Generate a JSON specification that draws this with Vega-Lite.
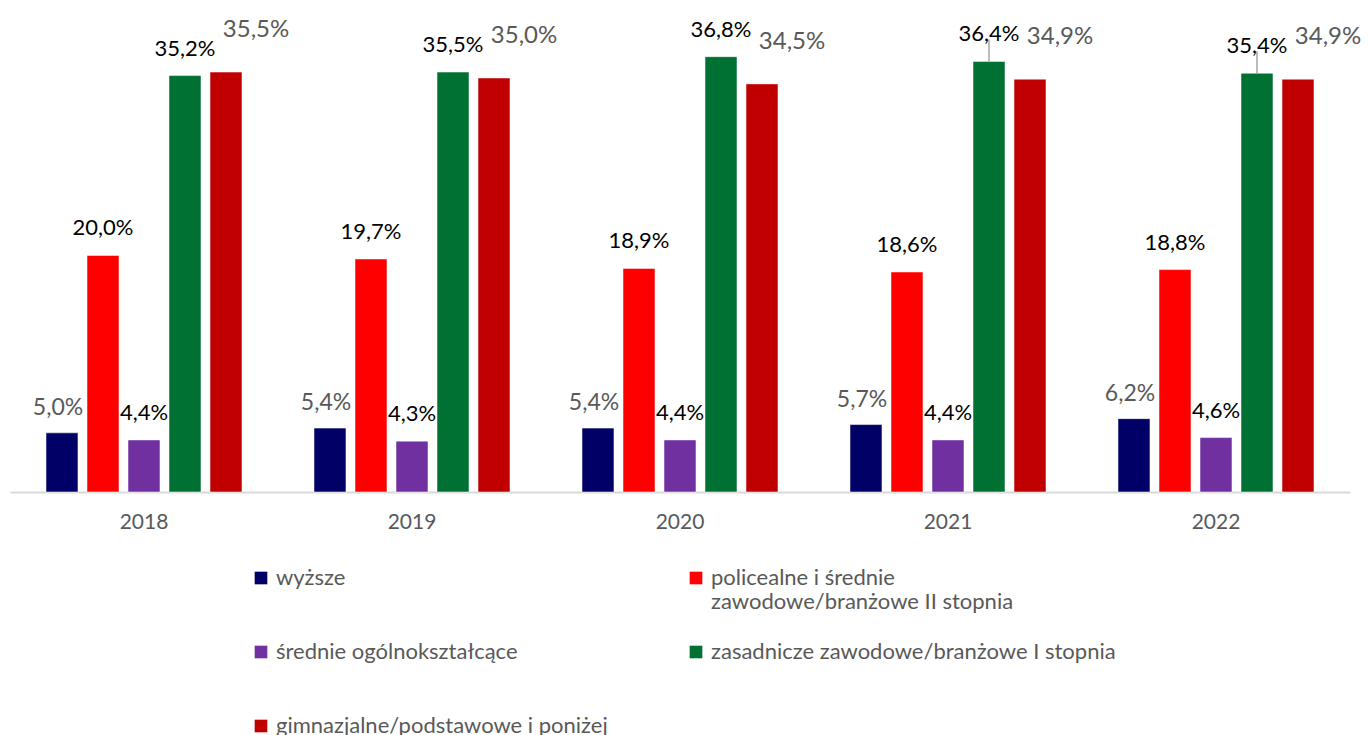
{
  "$schema": "https://vega.github.io/schema/vega-lite/v6.json",
  "autosize": {"type": "none"},
  "width": 1340,
  "height": 485,
  "padding": {"left": 10, "top": 7, "right": 19, "bottom": 243},
  "background": "white",
  "config": {
    "view": {"stroke": null},
    "font": "Lato"
  },
  "data": {
    "values": [
      {"rok": "2018", "poziom": "wyższe", "wartosc": 5.0},
      {"rok": "2018", "poziom": "policealne i średnie zawodowe/branżowe II stopnia", "wartosc": 20.0},
      {"rok": "2018", "poziom": "średnie ogólnokształcące", "wartosc": 4.4},
      {"rok": "2018", "poziom": "zasadnicze zawodowe/branżowe I stopnia", "wartosc": 35.2},
      {"rok": "2018", "poziom": "gimnazjalne/podstawowe i poniżej", "wartosc": 35.5},
      {"rok": "2019", "poziom": "wyższe", "wartosc": 5.4},
      {"rok": "2019", "poziom": "policealne i średnie zawodowe/branżowe II stopnia", "wartosc": 19.7},
      {"rok": "2019", "poziom": "średnie ogólnokształcące", "wartosc": 4.3},
      {"rok": "2019", "poziom": "zasadnicze zawodowe/branżowe I stopnia", "wartosc": 35.5},
      {"rok": "2019", "poziom": "gimnazjalne/podstawowe i poniżej", "wartosc": 35.0},
      {"rok": "2020", "poziom": "wyższe", "wartosc": 5.4},
      {"rok": "2020", "poziom": "policealne i średnie zawodowe/branżowe II stopnia", "wartosc": 18.9},
      {"rok": "2020", "poziom": "średnie ogólnokształcące", "wartosc": 4.4},
      {"rok": "2020", "poziom": "zasadnicze zawodowe/branżowe I stopnia", "wartosc": 36.8},
      {"rok": "2020", "poziom": "gimnazjalne/podstawowe i poniżej", "wartosc": 34.5},
      {"rok": "2021", "poziom": "wyższe", "wartosc": 5.7},
      {"rok": "2021", "poziom": "policealne i średnie zawodowe/branżowe II stopnia", "wartosc": 18.6},
      {"rok": "2021", "poziom": "średnie ogólnokształcące", "wartosc": 4.4},
      {"rok": "2021", "poziom": "zasadnicze zawodowe/branżowe I stopnia", "wartosc": 36.4},
      {"rok": "2021", "poziom": "gimnazjalne/podstawowe i poniżej", "wartosc": 34.9},
      {"rok": "2022", "poziom": "wyższe", "wartosc": 6.2},
      {"rok": "2022", "poziom": "policealne i średnie zawodowe/branżowe II stopnia", "wartosc": 18.8},
      {"rok": "2022", "poziom": "średnie ogólnokształcące", "wartosc": 4.6},
      {"rok": "2022", "poziom": "zasadnicze zawodowe/branżowe I stopnia", "wartosc": 35.4},
      {"rok": "2022", "poziom": "gimnazjalne/podstawowe i poniżej", "wartosc": 34.9}
    ]
  },
  "transform": [
    {"calculate": "replace(format(datum.wartosc, '.1f'), '.', ',') + '%'", "as": "etykieta"}
  ],
  "encoding": {
    "x": {
      "field": "rok", "type": "nominal",
      "scale": {"paddingInner": 0.235, "paddingOuter": 0.1175},
      "axis": {
        "title": null, "labelAngle": 0, "ticks": false,
        "domainColor": "#d9d9d9", "domainWidth": 2,
        "labelColor": "#595959", "labelFontSize": 21, "labelPadding": 19,
        "labelFont": "Lato"
      }
    },
    "xOffset": {
      "field": "poziom", "type": "nominal",
      "sort": ["wyższe", "policealne i średnie zawodowe/branżowe II stopnia", "średnie ogólnokształcące", "zasadnicze zawodowe/branżowe I stopnia", "gimnazjalne/podstawowe i poniżej"],
      "scale": {"paddingInner": 0.22, "paddingOuter": 0.11}
    },
    "y": {
      "field": "wartosc", "type": "quantitative",
      "scale": {"domain": [0, 41], "nice": false},
      "axis": null
    }
  },
  "layer": [
    {
      "mark": {"type": "bar", "stroke": "white", "strokeOpacity": 0.5, "strokeWidth": 1},
      "encoding": {
        "color": {
          "field": "poziom", "type": "nominal",
          "sort": ["wyższe", "policealne i średnie zawodowe/branżowe II stopnia", "średnie ogólnokształcące", "zasadnicze zawodowe/branżowe I stopnia", "gimnazjalne/podstawowe i poniżej"],
          "scale": {
            "domain": ["wyższe", "policealne i średnie zawodowe/branżowe II stopnia", "średnie ogólnokształcące", "zasadnicze zawodowe/branżowe I stopnia", "gimnazjalne/podstawowe i poniżej"],
            "range": ["#000066", "#ff0000", "#7030a0", "#007033", "#c00000"]
          },
          "legend": {
            "title": null,
            "orient": "none",
            "legendX": 240,
            "legendY": 560,
            "direction": "horizontal",
            "columns": 2,
            "gridAlign": "all",
            "columnPadding": 4,
            "rowPadding": 28,
            "symbolType": "square",
            "symbolSize": 160,
            "symbolStrokeWidth": 0,
            "symbolOffset": 0,
            "labelOffset": 4,
            "labelFontSize": 22,
            "labelFont": "Lato",
            "labelColor": "#595959",
            "labelLimit": 600,
            "labelBaseline": "middle",
            "labelExpr": "datum.label == 'policealne i średnie zawodowe/branżowe II stopnia' ? ['policealne i średnie', 'zawodowe/branżowe II stopnia'] : [datum.label, '']",
            "encode": {"labels": {"update": {"lineHeight": {"value": 27}}}}
          }
        }
      }
    },
    {
      "transform": [{"filter": "datum.poziom == 'zasadnicze zawodowe/branżowe I stopnia' && (datum.rok == '2021' || datum.rok == '2022')"}],
      "mark": {"type": "rule", "color": "#a6a6a6", "strokeWidth": 1.5, "y2Offset": -22},
      "encoding": {"y2": {"field": "wartosc"}}
    },
    {
      "transform": [{"filter": "datum.poziom == 'policealne i średnie zawodowe/branżowe II stopnia' || datum.poziom == 'średnie ogólnokształcące' || datum.poziom == 'zasadnicze zawodowe/branżowe I stopnia'"}],
      "mark": {"type": "text", "baseline": "middle", "dy": -27, "fontSize": 22, "font": "Lato", "color": "#000000"},
      "encoding": {"text": {"field": "etykieta"}}
    },
    {
      "transform": [{"filter": "datum.poziom == 'wyższe'"}],
      "mark": {"type": "text", "baseline": "middle", "dy": -25, "dx": -4, "fontSize": 23, "font": "Lato", "color": "#595959"},
      "encoding": {"text": {"field": "etykieta"}}
    },
    {
      "transform": [{"filter": "datum.poziom == 'gimnazjalne/podstawowe i poniżej'"}],
      "mark": {"type": "text", "baseline": "middle", "dy": -42, "dx": 30, "fontSize": 24, "font": "Lato", "color": "#595959"},
      "encoding": {"text": {"field": "etykieta"}}
    }
  ]
}
